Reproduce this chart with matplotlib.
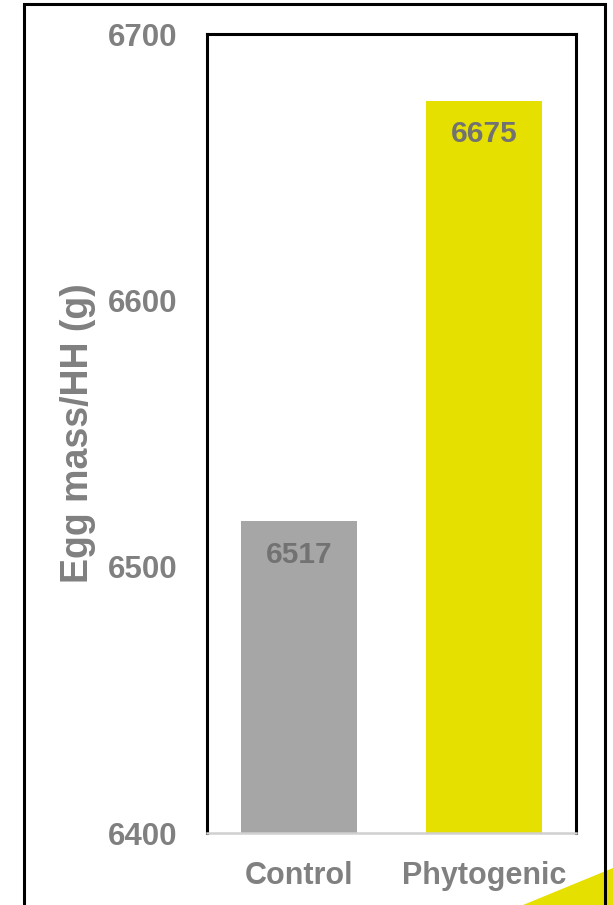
import matplotlib.pyplot as plt
import matplotlib.patches as patches

categories = ["Control", "Phytogenic"]
values = [6517, 6675]
colors = ["#A6A6A6", "#E6E000"]
yticks = [6400, 6500, 6600, 6700]
ylabel = "Egg mass/HH (g)"

plt.rcParams['font.family'] = ['Liberation Sans', 'DejaVu Sans']
txt = "#808080"

W, H = 613, 905
fig = plt.figure(figsize=(W / 100, H / 100), dpi=100)
ax = fig.add_axes([207 / W, 1 - 833 / H, (576 - 207) / W, (833 - 34) / H])

x = range(len(categories))
ax.bar(x, [v - yticks[0] for v in values], bottom=yticks[0], width=0.63, color=colors, zorder=2)
for xi, v in zip(x, values):
    ax.text(xi, v - 12.5, str(v), ha="center", va="center", fontsize=21.5,
            fontweight="bold", color="#727272", zorder=3)

ax.set_xlim(-0.5, 1.5)
ax.set_ylim(yticks[0], yticks[-1])
ax.set_yticks(yticks)
ax.set_yticklabels([str(t) for t in yticks])
ax.set_xticks(list(x))
ax.set_xticklabels(categories)
ax.tick_params(axis="both", length=0, labelcolor=txt)
ax.tick_params(axis="y", pad=21, labelsize=22.5)
ax.tick_params(axis="x", pad=20, labelsize=22)
for lab in ax.get_xticklabels() + ax.get_yticklabels():
    lab.set_fontweight("bold")
ax.set_ylabel(ylabel, fontsize=27, fontweight="bold", color=txt)
ax.yaxis.set_label_coords(-0.302, 0.5)

for s in ["left", "top", "right"]:
    ax.spines[s].set_linewidth(2.2)
    ax.spines[s].set_color("black")
ax.spines["bottom"].set_linewidth(1.8)
ax.spines["bottom"].set_color("#D0D0D0")

# outer frame
fig.patches.append(patches.Rectangle((24 / W, -0.05), (605 - 24) / W, 1.05 - 4 / H,
                                     transform=fig.transFigure, fill=False,
                                     edgecolor="black", linewidth=2.2, zorder=5))
# decorative corner
fig.patches.append(patches.Polygon([(523 / W, 0), (1, 1 - 868 / H), (1, 0)],
                                   closed=True, transform=fig.transFigure,
                                   facecolor="#E6E000", edgecolor="none", zorder=1))

fig.savefig("out.png", dpi=100)
